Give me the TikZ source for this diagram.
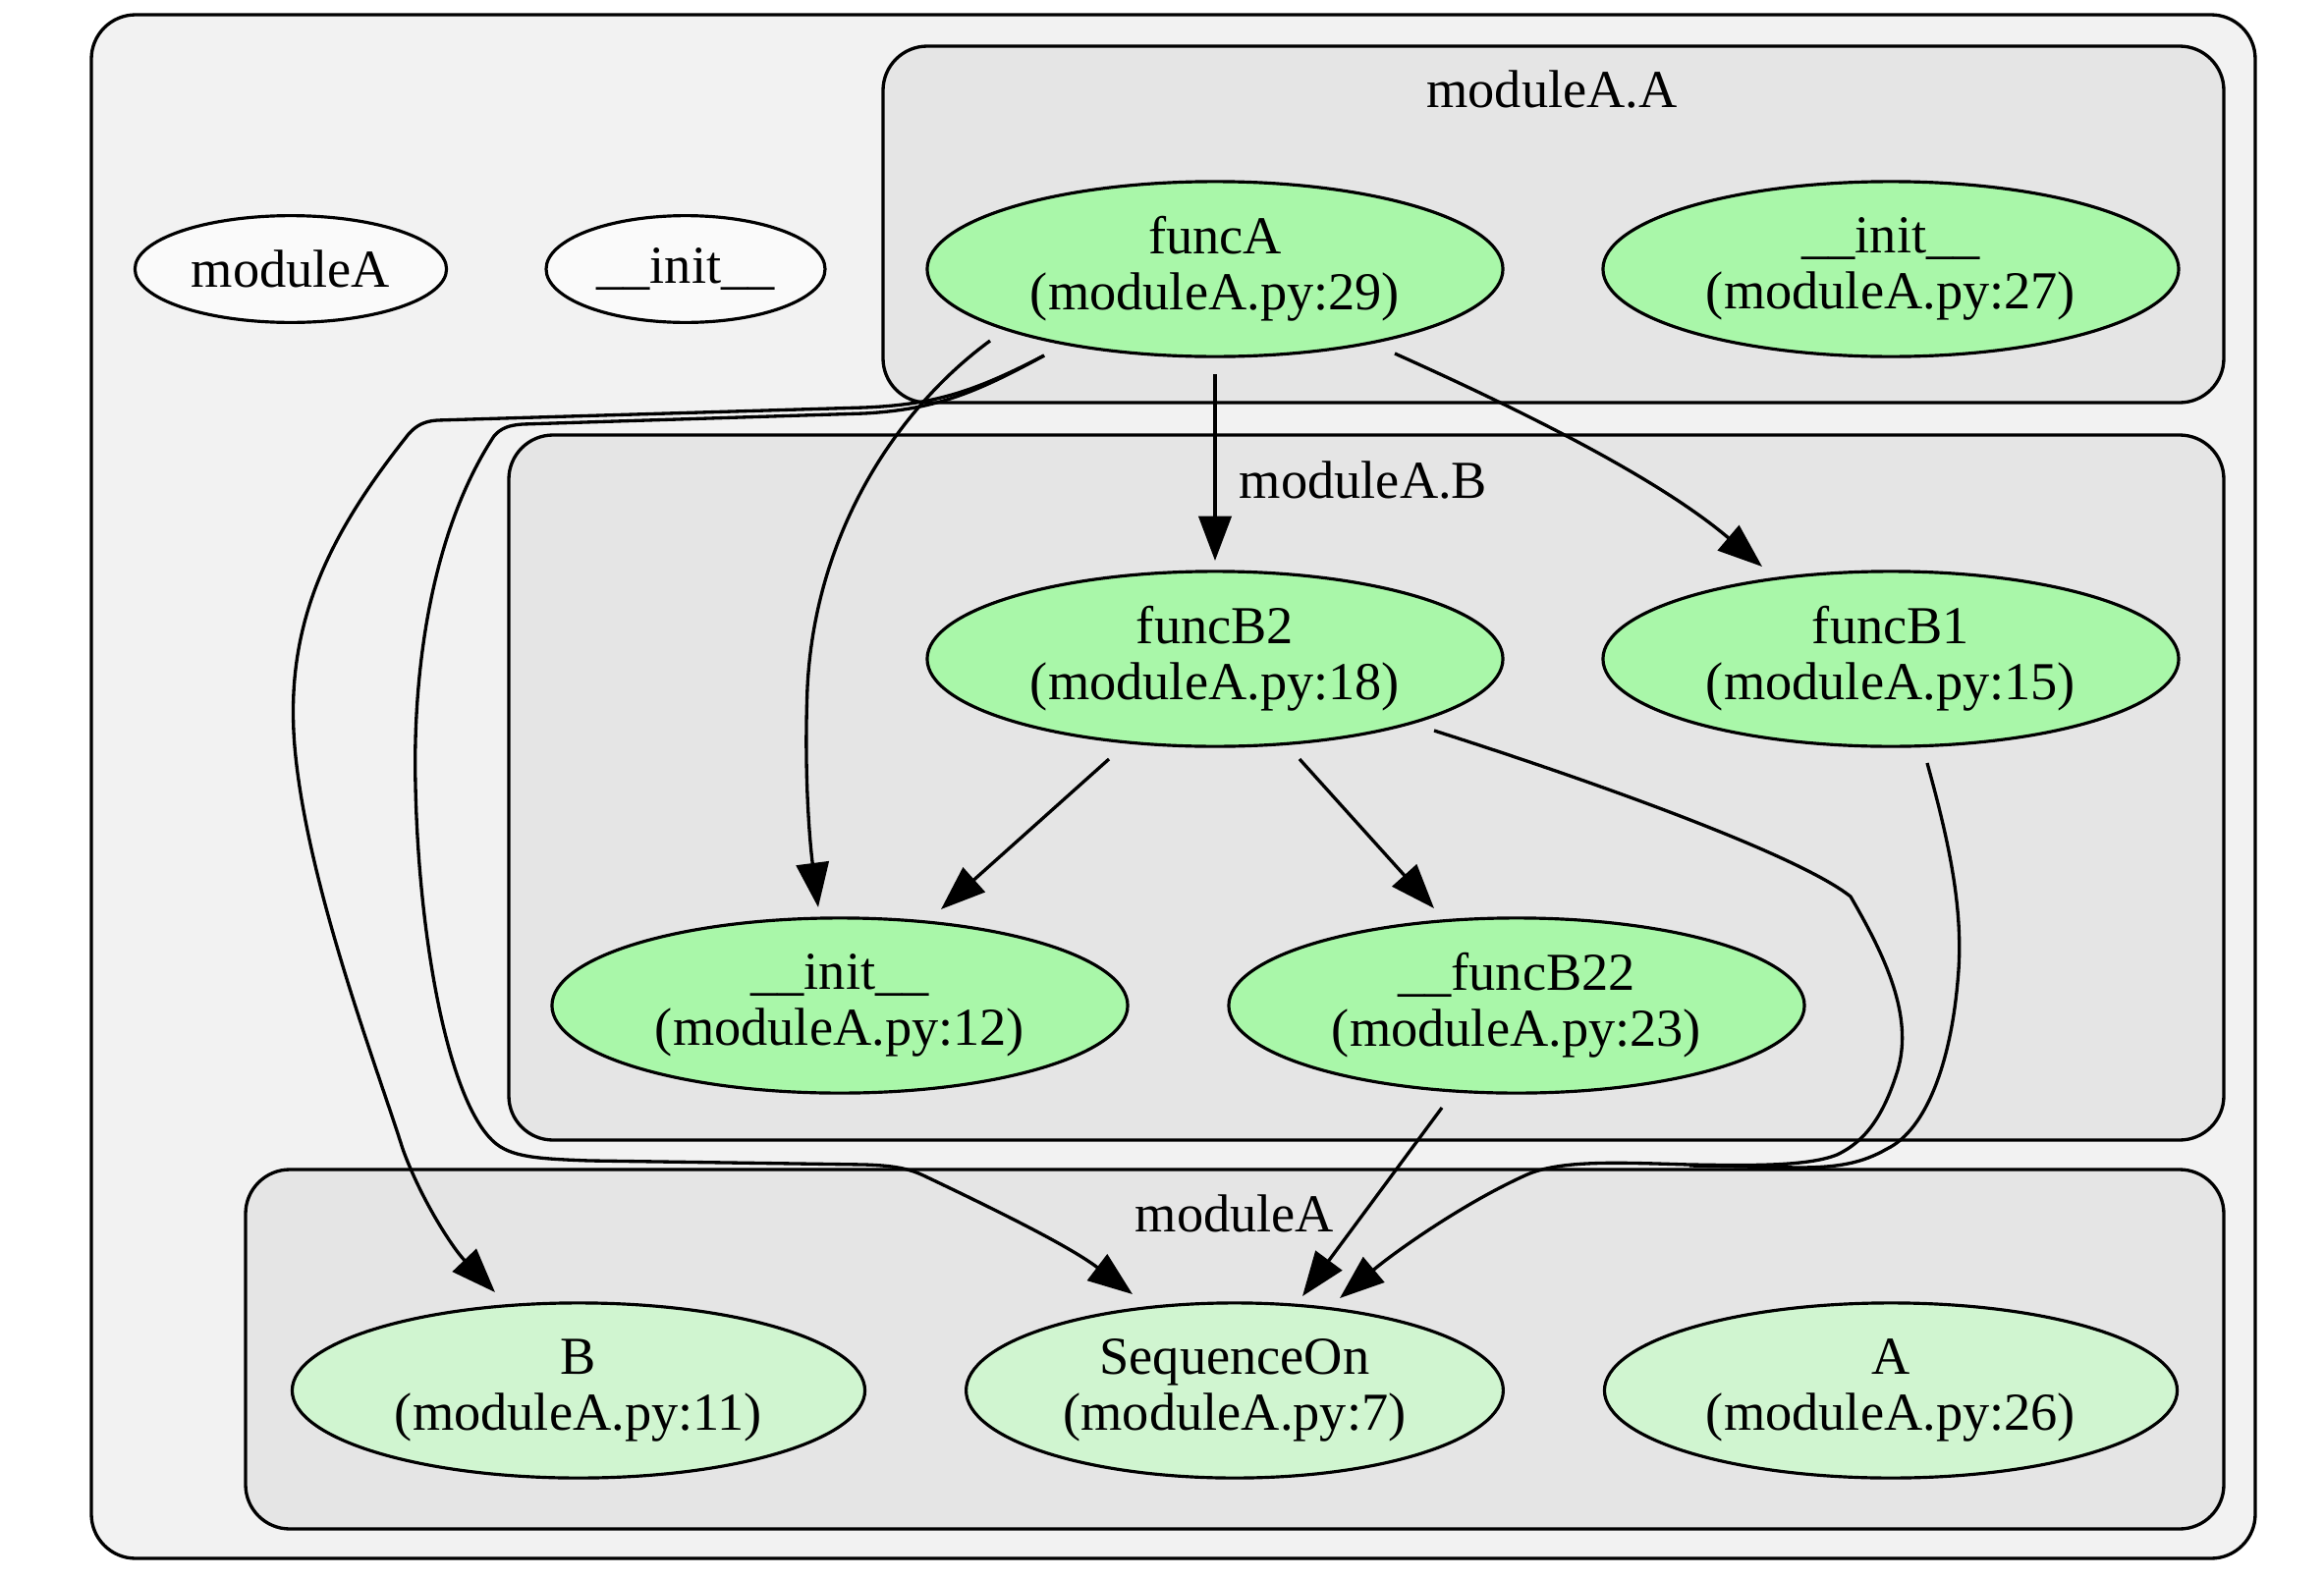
\documentclass[tikz,border=0pt]{standalone}
\usepackage{fontspec}
\setmainfont{Liberation Serif}
\usetikzlibrary{arrows.meta,shapes.geometric}
\definecolor{outerbg}{HTML}{F2F2F2}
\definecolor{clusterbg}{HTML}{E5E5E5}
\definecolor{funcgreen}{HTML}{A9F7A9}
\definecolor{classgreen}{HTML}{D0F5D0}
\definecolor{plainfill}{HTML}{FAFAFA}
\begin{document}
\begin{tikzpicture}[x=0.331pt,y=-0.331pt,
  cluster/.style={draw=black,line width=1.1pt,rounded corners=14.9pt},
  gnode/.style={ellipse,draw=black,line width=1.05pt,inner sep=0pt,align=center,
    font=\fontsize{18}{19}\selectfont},
  funcnode/.style={gnode,fill=funcgreen,minimum width=194pt,minimum height=59pt},
  classnode/.style={gnode,fill=classgreen,minimum width=193pt,minimum height=59pt},
  plainnode/.style={gnode,fill=plainfill,minimum height=36pt},
  lbl/.style={inner sep=0pt,font=\fontsize{18}{19}\selectfont},
  edge/.style={line width=1.1pt,-{Triangle[length=15pt,width=11pt]}},
  plainedge/.style={line width=1.1pt}]
\fill[white] (0,0) rectangle (2366,1608);
\useasboundingbox (0,0) rectangle (2366,1608);
% clusters
\draw[cluster,fill=outerbg] (93,15) rectangle (2296,1587);
\draw[cluster,fill=clusterbg] (899,47) rectangle (2264,410);
\draw[cluster,fill=clusterbg] (518,443) rectangle (2264,1161);
\draw[cluster,fill=clusterbg] (250,1191) rectangle (2264,1557);
\node[lbl] (lblA) at (1580,91) {moduleA.A};
\node[lbl] (lblB) at (1388,489) {moduleA.B};
\node[lbl] (lblM) at (1257,1236) {moduleA};
% nodes
\node[plainnode,minimum width=105pt] (modA) at (296,274) {moduleA};
\node[plainnode,minimum width=94pt] (initTop) at (698,274) {\_\_init\_\_};
\node[funcnode] (funcA) at (1237,274) {funcA\\(moduleA.py:29)};
\node[funcnode] (initA) at (1925,274) {\_\_init\_\_\\(moduleA.py:27)};
\node[funcnode] (funcB2) at (1237,671) {funcB2\\(moduleA.py:18)};
\node[funcnode] (funcB1) at (1925,671) {funcB1\\(moduleA.py:15)};
\node[funcnode] (initB) at (855,1024) {\_\_init\_\_\\(moduleA.py:12)};
\node[funcnode] (funcB22) at (1544,1024) {\_\_funcB22\\(moduleA.py:23)};
\node[classnode] (B) at (589,1416) {B\\(moduleA.py:11)};
\node[classnode,minimum width=181pt] (Seq) at (1257,1416) {SequenceOn\\(moduleA.py:7)};
\node[classnode] (A) at (1925,1416) {A\\(moduleA.py:26)};
% edges
\draw[edge] ([shift={(0,107)}]funcA.center) -- ([shift={(0,-100)}]funcB2.center);
\draw[edge] ([shift={(183,86)}]funcA.center) .. controls (1520,405) and (1680,480) .. ([shift={(-131,-94)}]funcB1.center);
\draw[edge] ([shift={(-229,73)}]funcA.center) .. controls (915,415) and (830,540) .. (822,700)
  .. controls (818,800) and (826,870) .. ([shift={(-22,-100)}]initB.center);
\draw[edge] ([shift={(-174,88)}]funcA.center) .. controls (990,400) and (950,412) .. (880,415)
  -- (445,428) .. controls (432,429) and (424,433) .. (416,442)
  .. controls (330,550) and (290,640) .. (300,760)
  .. controls (312,900) and (385,1090) .. (410,1170)
  .. controls (428,1220) and (460,1270) .. ([shift={(-85,-100)}]B.center);
\draw[edge] ([shift={(-174,88)}]funcA.center) .. controls (990,402) and (950,417) .. (880,421)
  -- (532,432) .. controls (518,433) and (510,436) .. (503,444)
  .. controls (440,540) and (420,680) .. (423,800)
  .. controls (426,950) and (455,1120) .. (503,1163)
  .. controls (520,1178) and (545,1180) .. (600,1182)
  -- (880,1186) .. controls (910,1187) and (925,1190) .. (940,1197)
  .. controls (1020,1235) and (1090,1270) .. ([shift={(-104,-98)}]Seq.center);
\draw[edge] ([shift={(-108,102)}]funcB2.center) -- ([shift={(103,-98)}]initB.center);
\draw[edge] ([shift={(86,102)}]funcB2.center) -- ([shift={(-84,-99)}]funcB22.center);
\draw[edge] ([shift={(223,73)}]funcB2.center) .. controls (1620,795) and (1830,870) .. (1884,913)
  .. controls (1920,975) and (1948,1035) .. (1932,1090)
  .. controls (1918,1135) and (1900,1162) .. (1870,1176)
  .. controls (1840,1188) and (1780,1187) .. (1720,1186)
  .. controls (1650,1184) and (1590,1181) .. (1555,1196)
  .. controls (1490,1225) and (1420,1275) .. ([shift={(107,-94)}]Seq.center);
\draw[plainedge] ([shift={(37,106)}]funcB1.center) .. controls (1985,860) and (2000,930) .. (1993,1000)
  .. controls (1986,1080) and (1962,1150) .. (1921,1170)
  .. controls (1895,1185) and (1870,1189) .. (1830,1189) -- (1720,1187);
\draw[edge] ([shift={(-76,104)}]funcB22.center) -- ([shift={(69,-96)}]Seq.center);
\end{tikzpicture}
\end{document}
